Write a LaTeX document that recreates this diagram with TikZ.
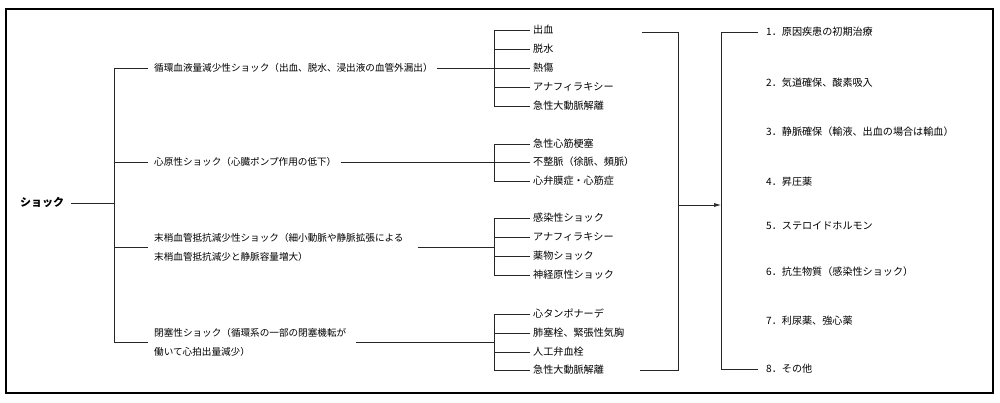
\documentclass[tikz,border=0pt]{standalone}
\usepackage{fontspec}
\setmainfont{Noto Sans CJK JP}
\usetikzlibrary{arrows.meta}
\begin{document}
\begin{tikzpicture}[x=1pt,y=-1pt,
  txt/.style={anchor=west, inner sep=0pt, font=\fontsize{9.6}{19}\selectfont, text height=8.4pt, text depth=1.2pt},
  itm/.style={txt, font=\fontsize{10.1}{19}\selectfont},
  two/.style={anchor=west, inner sep=0pt, font=\fontsize{9.6}{19}\selectfont, align=left},
  ln/.style={line width=0.7pt, draw=black!85},
  frame/.style={line width=1.3pt, draw=black}]
\useasboundingbox (0,0) rectangle (1000,402);
\draw[frame] (6,9) rectangle (993,393);

% root
\node[txt, font=\fontsize{11}{13}\selectfont\bfseries] (shock) at (20,203) {ショック};

% categories
\node[txt] (c1) at (154,68) {循環血液量減少性ショック（出血、脱水、浸出液の血管外漏出）};
\node[txt] (c2) at (154,162) {心原性ショック（心臓ポンプ作用の低下）};
\node[two] (c3) at (154,247) {末梢血管抵抗減少性ショック（細小動脈や静脈拡張による\\末梢血管抵抗減少と静脈容量増大）};
\node[two] (c4) at (154,342) {閉塞性ショック（循環系の一部の閉塞機転が\\働いて心拍出量減少）};

% group 1
\node[itm] (a1) at (533,30) {出血};
\node[itm] (a2) at (533,49) {脱水};
\node[itm] (a3) at (533,68) {熱傷};
\node[itm] (a4) at (533,87) {アナフィラキシー};
\node[itm] (a5) at (533,106) {急性大動脈解離};
% group 2
\node[itm] (b1) at (533,144) {急性心筋梗塞};
\node[itm] (b2) at (533,162) {不整脈（徐脈、頻脈）};
\node[itm] (b3) at (533,181) {心弁膜症・心筋症};
% group 3
\node[itm] (d1) at (533,218) {感染性ショック};
\node[itm] (d2) at (533,237) {アナフィラキシー};
\node[itm] (d3) at (533,256) {薬物ショック};
\node[itm] (d4) at (533,275) {神経原性ショック};
% group 4
\node[itm] (e1) at (533,314) {心タンポナーデ};
\node[itm] (e2) at (533,333) {肺塞栓、緊張性気胸};
\node[itm] (e3) at (533,352) {人工弁血栓};
\node[itm] (e4) at (533,370) {急性大動脈解離};

% treatments
\node[itm] (t1) at (766,32) {1．原因疾患の初期治療};
\node[itm] (t2) at (766,83) {2．気道確保、酸素吸入};
\node[itm] (t3) at (766,132) {3．静脈確保（輸液、出血の場合は輸血）};
\node[itm] (t4) at (766,182) {4．昇圧薬};
\node[itm] (t5) at (766,226) {5．ステロイドホルモン};
\node[itm] (t6) at (766,272) {6．抗生物質（感染性ショック）};
\node[itm] (t7) at (766,321) {7．利尿薬、強心薬};
\node[itm] (t8) at (766,369) {8．その他};

% coordinates
\coordinate (J) at (114,203);
\coordinate (S) at (494,0);
\coordinate (T) at (721,0);
\coordinate (R1) at (642,32);
\coordinate (R2) at (678,32);
\coordinate (R3) at (678,370);
\coordinate (R4) at (640,370);
\coordinate (A0) at (678,205);

% root to main bracket
\draw[ln] ([xshift=7pt]shock.east) -- (J);
\draw[ln] ([xshift=-6pt]c1.west) -| (J |- c4.west) -- ([xshift=-6pt]c4.west);
\draw[ln] ([xshift=-6pt]c2.west) -- (c2.west -| J);
\draw[ln] ([xshift=-6pt]c3.west) -- (c3.west -| J);

% categories to sub brackets
\draw[ln] ([xshift=4pt]c1.east) -- (c1.east -| S);
\draw[ln] ([xshift=4pt]c2.east) -- (c2.east -| S);
\draw[ln] ([xshift=14pt]c3.east) -- (c3.east -| S);
\draw[ln] ([xshift=10pt]c4.east) -- (c4.east -| S);

% sub brackets
\draw[ln] ([xshift=-3pt]a1.west) -| (S |- a5.west) -- ([xshift=-3pt]a5.west);
\foreach \n in {a2,a3,a4} \draw[ln] ([xshift=-3pt]\n.west) -- (\n.west -| S);
\draw[ln] ([xshift=-3pt]b1.west) -| (S |- b3.west) -- ([xshift=-3pt]b3.west);
\draw[ln] ([xshift=-3pt]b2.west) -- (b2.west -| S);
\draw[ln] ([xshift=-3pt]d1.west) -| (S |- d4.west) -- ([xshift=-3pt]d4.west);
\foreach \n in {d2,d3} \draw[ln] ([xshift=-3pt]\n.west) -- (\n.west -| S);
\draw[ln] ([xshift=-3pt]e1.west) -| (S |- e4.west) -- ([xshift=-3pt]e4.west);
\foreach \n in {e2,e3} \draw[ln] ([xshift=-3pt]\n.west) -- (\n.west -| S);

% collecting bracket and arrow
\draw[ln] (R1) -- (R2) -- (R3) -- (R4);
\draw[ln, -{Latex[length=7pt,width=4pt]}] (A0) -- (A0 -| T);

% treatment bracket
\draw[ln] ([xshift=-8pt]t1.west) -| (T |- t8.west) -- ([xshift=-8pt]t8.west);
\end{tikzpicture}
\end{document}
